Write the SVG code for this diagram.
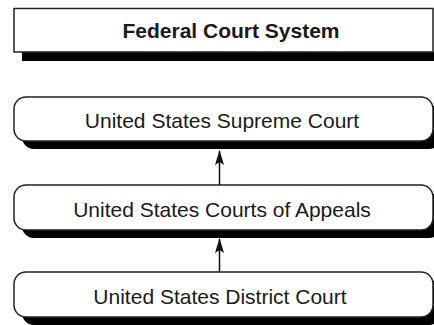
<svg xmlns="http://www.w3.org/2000/svg" width="434" height="325" viewBox="0 0 434 325">
<defs>
<style>
.box{fill:#fff;stroke:#222;stroke-width:1.5}
.shadow{fill:#000}
.t{font-family:"Liberation Sans",Arial,sans-serif;font-size:21px;fill:#1a1a1a;text-anchor:middle}
.title{font-weight:bold}
.conn{stroke:#111;stroke-width:1.5;fill:none}
</style>
<marker id="arrow" markerWidth="15" markerHeight="10" refX="14" refY="4.5" orient="auto" markerUnits="userSpaceOnUse" viewBox="0 0 15 9">
<path d="M15,4.5 L0,0 L3,4.5 L0,9 Z" fill="#111"/>
</marker>
</defs>
<g id="title">
<rect class="shadow" x="22" y="52" width="420" height="9"/>
<rect class="box" x="14" y="8.5" width="419" height="43.5"/>
<text class="t title" x="231" y="37.5">Federal Court System</text>
</g>
<g id="supreme">
<rect class="shadow" x="22" y="105" width="419" height="44" rx="12"/>
<rect class="box" x="14" y="97" width="419" height="44" rx="12"/>
<text class="t" x="222" y="128">United States Supreme Court</text>
</g>
<g id="appeals">
<rect class="shadow" x="22" y="193" width="419" height="45" rx="12"/>
<rect class="box" x="14" y="185" width="419" height="45" rx="12"/>
<text class="t" x="222" y="217">United States Courts of Appeals</text>
</g>
<g id="district">
<rect class="shadow" x="22" y="280" width="419" height="45" rx="12"/>
<rect class="box" x="14" y="272" width="419" height="45" rx="12"/>
<text class="t" x="220" y="304">United States District Court</text>
</g>
<g id="connectors">
<line class="conn" x1="219.5" y1="185" x2="219.5" y2="151" marker-end="url(#arrow)"/>
<line class="conn" x1="219.5" y1="272" x2="219.5" y2="239" marker-end="url(#arrow)"/>
</g>
</svg>
